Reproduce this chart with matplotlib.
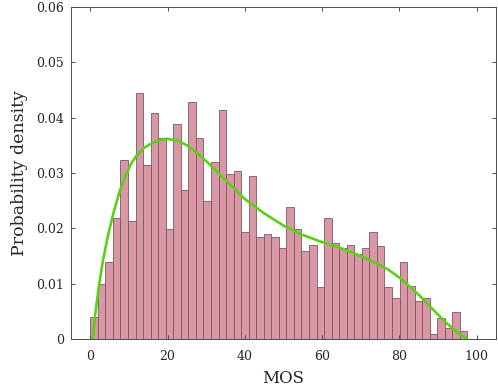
import numpy as np
import matplotlib
matplotlib.use('Agg')
import matplotlib.pyplot as plt

# Histogram: 50 bins between MOS 0 and 97.6
bin_lo, bin_hi = 0.0, 97.6
density = [
    0.0039, 0.0099, 0.0139, 0.0219, 0.0323, 0.0213, 0.0444, 0.0314, 0.0408, 0.0364,
    0.0198, 0.0388, 0.0269, 0.0429, 0.0364, 0.0249, 0.0319, 0.0414, 0.0299, 0.0303,
    0.0194, 0.0295, 0.0184, 0.0189, 0.0184, 0.0164, 0.0238, 0.0198, 0.0159, 0.0169,
    0.0094, 0.0218, 0.0173, 0.0164, 0.0169, 0.0153, 0.0164, 0.0193, 0.0168, 0.0094,
    0.0074, 0.0139, 0.0095, 0.0068, 0.0074, 0.0009, 0.0038, 0.0019, 0.0048, 0.0014,
]

# Fitted density curve
fit_x = [0.6, 1.2, 2.2, 3.2, 4.5, 6.0, 7.5, 9.0, 10.5, 12.0, 14.0, 16.5, 19.6, 22.5,
         25, 28, 31, 35, 40, 45, 50, 55, 60, 65, 70, 74, 77, 80, 83, 86, 89, 92, 95, 97.6]
fit_y = [0.0, 0.0040, 0.0095, 0.0139, 0.0185, 0.0228, 0.0265, 0.0293, 0.0316, 0.0332,
         0.0346, 0.0356, 0.0362, 0.0359, 0.0350, 0.0334, 0.0315, 0.0287, 0.0253, 0.0227,
         0.0205, 0.0188, 0.0175, 0.0164, 0.0150, 0.0137, 0.0126, 0.0111, 0.0093, 0.0073,
         0.0051, 0.0030, 0.0012, 0.0]

xticks = [0, 20, 40, 60, 80, 100]
yticks = [0, 0.01, 0.02, 0.03, 0.04, 0.05, 0.06]
ytick_labels = ['0', '0.01', '0.02', '0.03', '0.04', '0.05', '0.06']

plt.rcParams['font.family'] = ['DejaVu Serif']

fig = plt.figure(figsize=(4.98, 3.90), dpi=100)
ax = fig.add_axes([71 / 498, 51 / 390, 425 / 498, 332 / 390])

edges = np.linspace(bin_lo, bin_hi, len(density) + 1)
ax.bar(edges[:-1], density, width=edges[1] - edges[0], align='edge',
       color='#d996a4', edgecolor='#7a5a62', linewidth=0.6)
ax.plot(fit_x, fit_y, color='#58d117', linewidth=1.9, solid_capstyle='butt')

ax.set_xlim(-5, 105)
ax.set_ylim(0, 0.06)
ax.set_xticks(xticks)
ax.set_yticks(yticks)
ax.set_yticklabels(ytick_labels)

frame = '#4d4d4d'
for s in ax.spines.values():
    s.set_color(frame)
    s.set_linewidth(0.7)
ax.tick_params(direction='in', length=3, width=0.7, color=frame, labelcolor='#262626',
               labelsize=9, top=True, right=True, pad=5)
ax.tick_params(axis='x', pad=8)

ax.set_xlabel('MOS', fontsize=12, color='#262626', labelpad=5)
ax.set_ylabel('Probability density', fontsize=12.5, color='#262626', labelpad=6)

fig.savefig('out.png', dpi=100)
